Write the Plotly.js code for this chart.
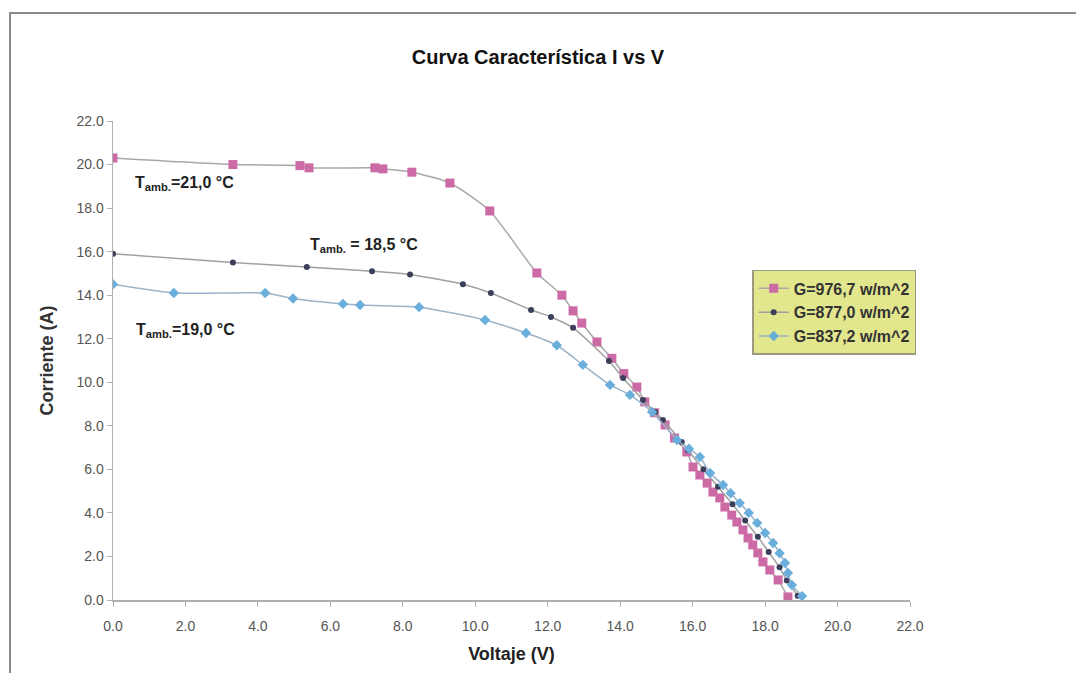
<!DOCTYPE html>
<html>
<head>
<meta charset="utf-8">
<script src="https://cdn.plot.ly/plotly-3.0.1.min.js"></script>
<style>html,body{margin:0;padding:0;background:#fff;}#chart{width:1076px;height:673px;}</style>
</head>
<body>
<div id="chart"></div>
<script>
// Series 1: G=976,7 w/m^2 (T amb = 21,0 °C)
const v1 = [0.0, 3.31, 5.16, 5.41, 7.23, 7.45, 8.25, 9.3, 10.4, 11.7, 12.39, 12.7, 12.94, 13.36, 13.77, 14.1, 14.46, 14.68, 14.95, 15.24, 15.5, 15.84, 16.01, 16.2, 16.4, 16.56, 16.75, 16.89, 17.08, 17.22, 17.39, 17.53, 17.66, 17.8, 17.94, 18.13, 18.36, 18.63];
const i1 = [20.3, 20.0, 19.95, 19.85, 19.85, 19.8, 19.65, 19.15, 17.87, 15.02, 14.0, 13.28, 12.72, 11.85, 11.1, 10.4, 9.78, 9.1, 8.6, 8.04, 7.44, 6.8, 6.11, 5.74, 5.37, 4.96, 4.69, 4.27, 3.9, 3.58, 3.22, 2.85, 2.53, 2.16, 1.75, 1.38, 0.92, 0.14];
// Series 2: G=877,0 w/m^2 (T amb = 18,5 °C)
const v2 = [0.0, 3.31, 5.35, 7.15, 8.2, 9.66, 10.43, 11.54, 12.09, 12.7, 13.69, 14.08, 14.63, 14.96, 15.18, 15.7, 15.87, 16.3, 16.7, 17.1, 17.45, 17.8, 18.1, 18.4, 18.6, 18.9];
const i2 = [15.9, 15.5, 15.3, 15.1, 14.95, 14.5, 14.1, 13.32, 13.0, 12.5, 10.98, 10.2, 9.19, 8.64, 8.27, 7.26, 6.89, 6.0, 5.2, 4.4, 3.65, 2.9, 2.2, 1.5, 0.9, 0.2];
// Series 3: G=837,2 w/m^2 (T amb = 19,0 °C)
const v3 = [0.0, 1.68, 4.2, 4.97, 6.35, 6.82, 8.45, 10.27, 11.4, 12.25, 12.97, 13.72, 14.27, 14.88, 15.57, 15.9, 16.2, 16.48, 16.84, 17.05, 17.3, 17.55, 17.78, 18.0, 18.22, 18.4, 18.55, 18.63, 18.74, 19.02];
const i3 = [14.5, 14.1, 14.1, 13.85, 13.6, 13.55, 13.45, 12.86, 12.26, 11.7, 10.8, 9.88, 9.42, 8.64, 7.35, 6.95, 6.57, 5.83, 5.28, 4.9, 4.45, 4.0, 3.54, 3.08, 2.62, 2.15, 1.7, 1.24, 0.69, 0.18];

const names = ["G=976,7 w/m^2", "G=877,0 w/m^2", "G=837,2 w/m^2"];
const xTicks = [0, 2, 4, 6, 8, 10, 12, 14, 16, 18, 20, 22];
const yTicks = [0, 2, 4, 6, 8, 10, 12, 14, 16, 18, 20, 22];

const FONT = 'Liberation Sans, Arial, sans-serif';

const traces = [
  {x: v1, y: i1, name: names[0], mode: 'lines+markers', line: {color: '#a8a8a8', width: 1.5, shape: 'spline', smoothing: 0.6},
   marker: {symbol: 'square', size: 9, color: '#cc6aa6'}},
  {x: v2, y: i2, name: names[1], mode: 'lines+markers', line: {color: '#a0a0a0', width: 1.5, shape: 'spline', smoothing: 0.6},
   marker: {symbol: 'circle', size: 6, color: '#3c3f5a'}},
  {x: v3, y: i3, name: names[2], mode: 'lines+markers', line: {color: '#9bb3c8', width: 1.5, shape: 'spline', smoothing: 0.6},
   marker: {symbol: 'diamond', size: 8, color: '#6aaedc'}}
];

const annFont = {family: FONT, size: 16, color: '#222'};
const layout = {
  width: 1076, height: 673,
  paper_bgcolor: '#ffffff', plot_bgcolor: '#ffffff',
  margin: {l: 113, r: 166, t: 121, b: 73},
  showlegend: true,
  title: {text: '<b>Curva Característica I vs V</b>', x: 0.5, xref: 'container', xanchor: 'center', y: 0.915, yanchor: 'middle',
    font: {family: FONT, size: 20, color: '#111'}},
  xaxis: {range: [0, 22], tickvals: xTicks, ticktext: xTicks.map(v => v.toFixed(1)), showgrid: false, zeroline: false,
    showline: true, linecolor: '#b0b0b0', linewidth: 1.5, ticks: 'outside', ticklen: 5, tickcolor: '#b0b0b0',
    ticklabelstandoff: 8,
    tickfont: {family: FONT, size: 14, color: '#555'},
    title: {text: '<b>Voltaje (V)</b>', standoff: 14, font: {family: FONT, size: 18, color: '#222'}}},
  yaxis: {range: [0, 22], tickvals: yTicks, ticktext: yTicks.map(v => v.toFixed(1)), showgrid: false, zeroline: false,
    showline: true, linecolor: '#b0b0b0', linewidth: 1.5, ticks: 'outside', ticklen: 5, tickcolor: '#b0b0b0',
    tickfont: {family: FONT, size: 14, color: '#555'},
    title: {text: '<b>Corriente (A)</b>', standoff: 18, font: {family: FONT, size: 18, color: '#333'}}},
  legend: {x: 0.802, y: 0.689, xanchor: 'left', yanchor: 'top', bgcolor: '#e2e68c', bordercolor: '#9a9a80', borderwidth: 1.5,
    font: {family: FONT, size: 16, color: '#333', weight: 'bold'}, tracegroupgap: 0, itemwidth: 30},
  annotations: [
    {xref: 'x', yref: 'y', x: 0.55, y: 19.15, xanchor: 'left', yanchor: 'middle', showarrow: false,
     text: '<b>T<sub>amb.</sub>=21,0 °C</b>', font: annFont},
    {xref: 'x', yref: 'y', x: 5.38, y: 16.3, xanchor: 'left', yanchor: 'middle', showarrow: false,
     text: '<b>T<sub>amb.</sub> = 18,5 °C</b>', font: annFont},
    {xref: 'x', yref: 'y', x: 0.58, y: 12.4, xanchor: 'left', yanchor: 'middle', showarrow: false,
     text: '<b>T<sub>amb.</sub>=19,0 °C</b>', font: annFont}
  ],
  shapes: [
    {type: 'rect', xref: 'paper', yref: 'paper', x0: -0.1292, x1: 1.3, y0: -0.3, y1: 1.2255,
     line: {color: '#8a8a8a', width: 2}, fillcolor: 'rgba(0,0,0,0)'}
  ]
};

Plotly.newPlot('chart', traces, layout, {displayModeBar: false, staticPlot: true});
</script>
</body>
</html>
